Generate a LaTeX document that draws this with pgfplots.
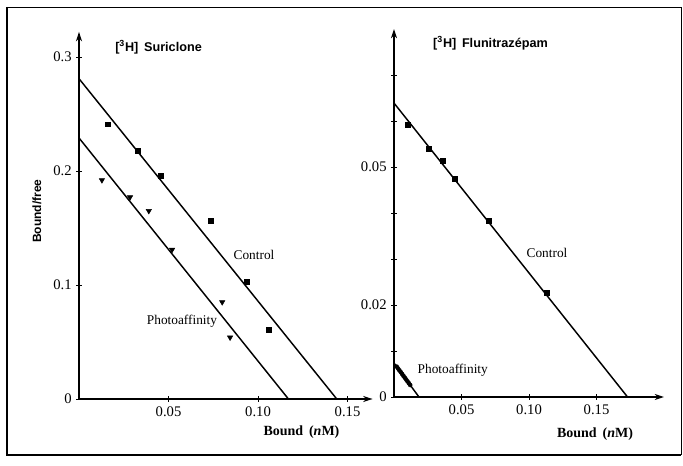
\documentclass[border=0pt]{standalone}
\usepackage{fontspec}
\setmainfont{Liberation Serif}
\setsansfont{Liberation Sans}
\usepackage{pgfplots}
\pgfplotsset{compat=1.18}
\usetikzlibrary{arrows.meta}
\pgfplotsset{
  common/.style={
    anchor=south west,
    axis lines=left,
    enlargelimits=false,
    clip=false,
    scaled ticks=false,
    every outer x axis line/.style={line width=0.9pt,-{Stealth[length=7pt,width=4.5pt]}},
    every outer y axis line/.style={line width=0.9pt,-{Stealth[length=7pt,width=4.5pt]}},
    tick align=center,
    major tick length=4pt,
    tick style={line width=0.6pt,black},
    ticklabel style={font=\fontsize{11}{12}\selectfont},
    /pgf/number format/assume math mode=true,
    xmin=0, ymin=0,
  },
  ctrl/.style={only marks, mark=square*, mark size=1.8pt, black},
  photo/.style={only marks, mark=triangle*, mark size=2.3pt, black, mark options={rotate=180}},
  fit/.style={no marks, line width=1.1pt, black},
}
\begin{document}
\begin{tikzpicture}[x=1pt,y=1pt]
\path (0,0) rectangle (512.25,348.75);
\draw[line width=1.4pt] (5.25,343.5) -- (5.25,7.5) -- (510.75,7.5);
\draw[line width=0.6pt] (5.25,343.5) -- (510.75,343.5) -- (510.75,7.5);

% Left panel: Suriclone
\begin{axis}[common,
  at={(59.25pt,49.5pt)},
  x=1342.5pt, y=855pt,
  xmax=0.164, ymax=0.322,
  xtick={0.05,0.1,0.15}, xticklabels={0.05,0.10,0.15},
  ytick={0,0.1,0.2,0.3}, yticklabels={0,0.1,0.2,0.3},
]
\addplot[fit] coordinates {(0,0.281) (0.144,0)};
\addplot[fit] coordinates {(0,0.229) (0.117,0)};
\addplot[ctrl] coordinates {(0.0162,0.241) (0.033,0.218) (0.0458,0.196) (0.0737,0.156) (0.0938,0.103) (0.106,0.0605)};
\addplot[photo] coordinates {(0.0128,0.192) (0.0285,0.177) (0.039,0.165) (0.052,0.131) (0.080,0.085) (0.0844,0.054)};
\end{axis}

% Right panel: Flunitrazepam
\begin{axis}[common,
  at={(295.5pt,51pt)},
  x=1012.5pt, y=3450pt,
  xmax=0.20, ymax=0.08,
  xtick={0.05,0.1,0.15}, xticklabels={0.05,0.10,0.15},
  ytick={0,0.01,0.02,0.03,0.04,0.05,0.06,0.07}, yticklabels={0,,0.02,,,0.05,,},
]
\addplot[fit] coordinates {(0,0.0639) (0.173,0)};
\addplot[fit] coordinates {(0,0.0074) (0.0185,0)};
\addplot[ctrl] coordinates {(0.0104,0.0591) (0.026,0.054) (0.036,0.0513) (0.045,0.0474) (0.070,0.0383) (0.113,0.0226)};
\addplot[only marks, mark=*, mark size=1.5pt, black] coordinates {(0.002,0.0066) (0.003,0.0062) (0.004,0.0058) (0.005,0.0054) (0.006,0.0050) (0.007,0.0046) (0.008,0.0042) (0.009,0.0038) (0.010,0.0034) (0.011,0.0030) (0.012,0.0026)};
\end{axis}

% Titles and labels
\node[font=\sffamily\bfseries\fontsize{9.5}{11}\selectfont] at (118.9,313.5) {[\textsuperscript{3}H]\, Suriclone};
\node[font=\sffamily\bfseries\fontsize{9.5}{11}\selectfont] at (367.9,316.5) {[\textsuperscript{3}H]\, Flunitrazépam};
\node[font=\sffamily\bfseries\fontsize{9}{11}\selectfont, rotate=90] at (27.75,190.5) {Bound/free};
\node[font=\bfseries\fontsize{10.5}{12}\selectfont] at (226.1,24.75) {Bound\, (\textit{n}M)};
\node[font=\bfseries\fontsize{10.5}{12}\selectfont] at (446.25,23.25) {Bound\, (\textit{n}M)};
\node[font=\fontsize{10}{12}\selectfont] at (190.5,157.5) {Control};
\node[font=\fontsize{10}{12}\selectfont] at (136.5,108) {Photoaffinity};
\node[font=\fontsize{10}{12}\selectfont] at (410.25,159) {Control};
\node[font=\fontsize{10}{12}\selectfont, anchor=west] at (309.75,71.25) {Photoaffinity};
\end{tikzpicture}
\end{document}
